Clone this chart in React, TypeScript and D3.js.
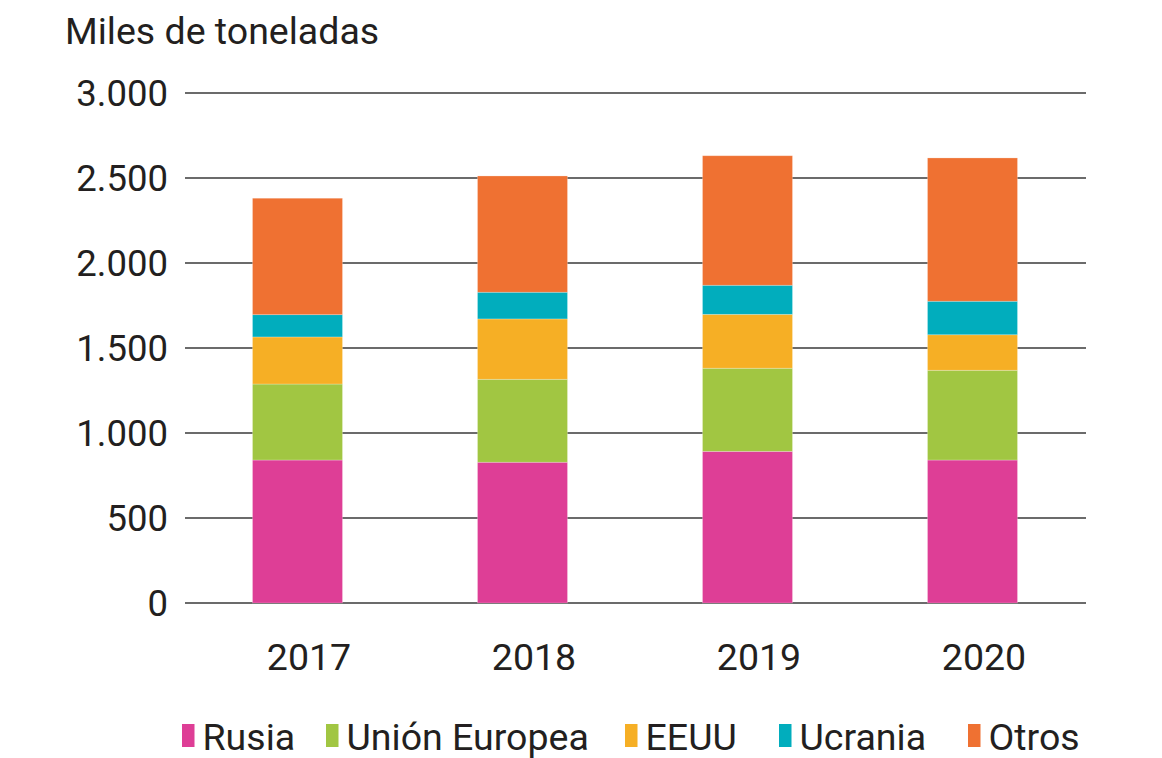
import React from "react";
import * as d3 from "d3";

const years = ["2017", "2018", "2019", "2020"];
const seriesNames = ["Rusia", "Unión Europea", "EEUU", "Ucrania", "Otros"];
const rusia = [841, 828, 892, 841];
const unionEuropea = [447, 488, 489, 528];
const eeuu = [277, 355, 317, 209];
const ucrania = [131, 157, 171, 197];
const otros = [685, 684, 762, 843];
const yTicks = [0, 500, 1000, 1500, 2000, 2500, 3000];
const colors = ["#DE3E96", "#A1C642", "#F6AF25", "#01ADBD", "#EF7132"];

const W = 1162;
const H = 758;
const textColor = "#231F20";
const font = "Roboto, 'Noto Sans', sans-serif";

export default function App() {
  const seriesValues = [rusia, unionEuropea, eeuu, ucrania, otros];
  const rows = years.map((y, i) => {
    const r: Record<string, any> = { year: y };
    seriesNames.forEach((s, k) => (r[s] = seriesValues[k][i]));
    return r;
  });
  const stacked = d3.stack<any>().keys(seriesNames)(rows);

  const x = d3.scaleBand<string>().domain(years).range([185, 1085]).paddingInner(0.6).paddingOuter(0.3);
  const y = d3.scaleLinear().domain([0, 3000]).range([603, 93]);
  const fmt = (v: number) => d3.format(",")(v).replace(/,/g, ".");

  const legendX = [182, 326, 625, 779, 968];

  return (
    <svg width={W} height={H} style={{ position: "absolute", left: 0, top: 0, background: "#fff" }} fontFamily={font}>
      <text x={65} y={44} fontSize={37.5} fill={textColor}>Miles de toneladas</text>
      {yTicks.map((t) => (
        <g key={t}>
          <line x1={185} x2={1086} y1={y(t)} y2={y(t)} stroke="#3a3a3a" strokeWidth={1.3} />
          <text x={168} y={y(t)} dy="0.355em" textAnchor="end" fontSize={36.5} fill={textColor}>
            {fmt(t)}
          </text>
        </g>
      ))}
      {stacked.map((layer, k) => (
        <g key={layer.key} fill={colors[k]}>
          {layer.map((d, i) => (
            <rect
              key={i}
              x={x(years[i])}
              width={x.bandwidth()}
              y={y(d[1])}
              height={y(d[0]) - y(d[1])}
              stroke="#fff"
              strokeOpacity={0.3}
              strokeWidth={0.8}
            />
          ))}
        </g>
      ))}
      {years.map((yr) => (
        <text key={yr} x={(x(yr) as number) + x.bandwidth() / 2 + 11.5} y={670} textAnchor="middle" fontSize={37.5} fill={textColor}>
          {yr}
        </text>
      ))}
      {seriesNames.map((s, k) => (
        <g key={s} transform={`translate(${legendX[k]},0)`}>
          <rect x={0} y={724} width={12.5} height={23} fill={colors[k]} />
          <text x={20.5} y={750} fontSize={37.5} fill={textColor}>{s}</text>
        </g>
      ))}
    </svg>
  );
}
